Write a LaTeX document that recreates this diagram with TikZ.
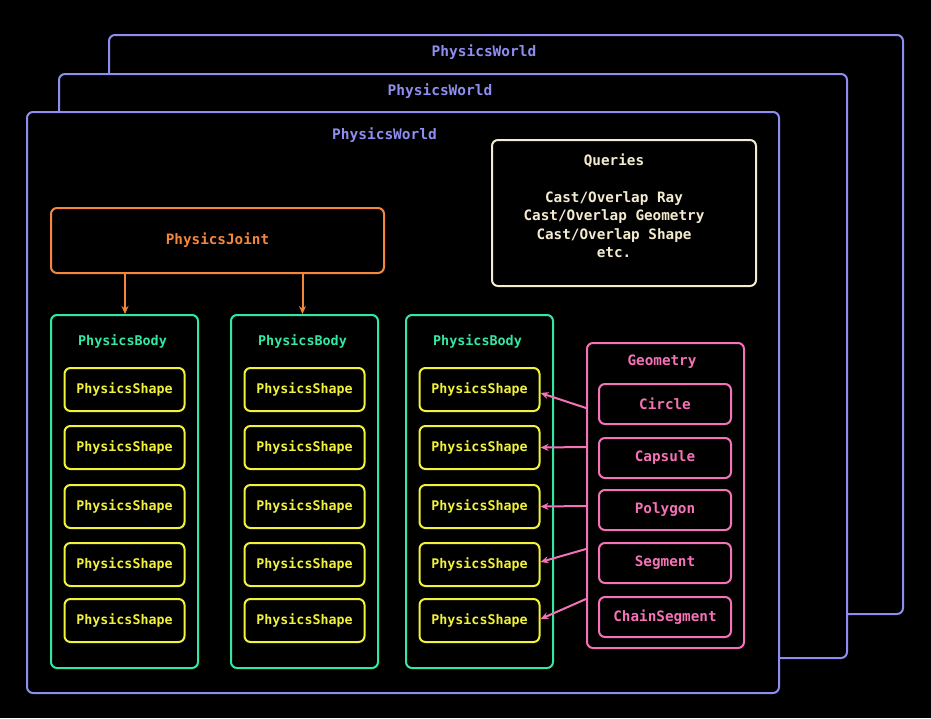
\documentclass[tikz,border=0pt]{standalone}
\usepackage{fontspec}
\setmonofont{DejaVu Sans Mono}
\usetikzlibrary{arrows.meta}
\definecolor{cworld}{HTML}{8E8EF0}
\definecolor{cquery}{HTML}{F4EBD0}
\definecolor{cjoint}{HTML}{F5873A}
\definecolor{cbody}{HTML}{33E8A5}
\definecolor{cshape}{HTML}{F2F23A}
\definecolor{cgeo}{HTML}{F472B6}
\tikzset{
  box/.style={draw, line width=2pt, rounded corners=6pt, fill=black, inner sep=0pt},
  txt/.style={yshift=-1pt},
  worldbox/.style={box, draw=cworld},
  worldtitle/.style={txt, text=cworld, font=\ttfamily\bfseries\fontsize{14.5}{16}\selectfont},
  querybox/.style={box, draw=cquery, minimum width=264pt, minimum height=146pt},
  querytext/.style={txt, text=cquery, align=center, font=\ttfamily\bfseries\fontsize{14.3}{18.5}\selectfont},
  jointbox/.style={box, draw=cjoint, minimum width=333pt, minimum height=65pt, text=cjoint, font=\ttfamily\bfseries\fontsize{14.3}{16}\selectfont},
  bodybox/.style={box, draw=cbody, minimum width=147pt, minimum height=353pt},
  bodytitle/.style={txt, text=cbody, font=\ttfamily\bfseries\fontsize{13.4}{16}\selectfont},
  shapebox/.style={box, draw=cshape, minimum width=120pt, minimum height=43pt, text=cshape, font=\ttfamily\bfseries\fontsize{13.3}{16}\selectfont},
  geobox/.style={box, draw=cgeo, minimum width=157pt, minimum height=305pt},
  geotitle/.style={txt, text=cgeo, font=\ttfamily\bfseries\fontsize{14.3}{16}\selectfont},
  geoitem/.style={box, draw=cgeo, minimum width=132pt, minimum height=40pt, text=cgeo, font=\ttfamily\bfseries\fontsize{14.3}{16}\selectfont},
  jarrow/.style={draw=cjoint, line width=2pt, -{Stealth[length=8pt,width=7pt]}},
  garrow/.style={draw=cgeo, line width=2pt, -{Stealth[length=8pt,width=7pt]}},
}
\begin{document}
\begin{tikzpicture}[x=1pt,y=-1pt]
\useasboundingbox[fill=black] (0,0) rectangle (931,718);
% worlds
\node[worldbox, minimum width=794pt, minimum height=579pt] (w3) at (506,324.5) {};
\node[worldtitle] (w3t) at (484,51) {PhysicsWorld};
\node[worldbox, minimum width=788pt, minimum height=584pt] (w2) at (453,366) {};
\node[worldtitle] (w2t) at (440,90) {PhysicsWorld};
\node[worldbox, minimum width=752pt, minimum height=581pt] (w1) at (403,402.5) {};
\node[worldtitle] (w1t) at (384.5,134) {PhysicsWorld};
% queries
\node[querybox] (q) at (624,213) {};
\node[querytext] (qt) at (614,205) {Queries\\[18.5pt]Cast/Overlap Ray\\Cast/Overlap Geometry\\Cast/Overlap Shape\\etc.};
% joint
\node[jointbox] (joint) at (217.5,240.5) {\raisebox{-1pt}{PhysicsJoint}};
% bodies
\foreach \b/\x in {1/124.5,2/304.5,3/479.5}{
  \node[bodybox] (b\b) at (\x,491.5) {};
  \node[bodytitle] (b\b t) at (\x-2,340) {PhysicsBody};
  \foreach \s/\y in {1/389.5,2/447.5,3/506.5,4/564.5,5/620.5}{
    \node[shapebox] (s\b\s) at (\x,\y) {\raisebox{-1pt}{PhysicsShape}};
  }
}
% geometry
\node[geobox] (geo) at (665.5,495.5) {};
\node[geotitle] (geot) at (662,361) {Geometry};
\node[geoitem] (g1) at (665,404) {\raisebox{-1pt}{Circle}};
\node[geoitem] (g2) at (665,458) {\raisebox{-1pt}{Capsule}};
\node[geoitem] (g3) at (665,510) {\raisebox{-1pt}{Polygon}};
\node[geoitem] (g4) at (665,563) {\raisebox{-1pt}{Segment}};
\node[geoitem] (g5) at (665,617) {\raisebox{-1pt}{ChainSegment}};
% joint arrows
\draw[jarrow] ([xshift=0.5pt]joint.south -| b1.north) -- ([xshift=0.5pt]b1.north);
\draw[jarrow] ([xshift=-2pt]joint.south -| b2.north) -- ([xshift=-2pt]b2.north);
% geometry arrows
\coordinate (ga1) at (geo.west |- 0,408);
\coordinate (ga2) at (geo.west |- 0,447);
\coordinate (ga3) at (geo.west |- 0,506);
\coordinate (ga4) at (geo.west |- 0,549);
\coordinate (ga5) at (geo.west |- 0,599);
\draw[garrow] (ga1) -- ([yshift=-3.5pt]s31.east);
\draw[garrow] (ga2) -- (s32.east);
\draw[garrow] (ga3) -- (s33.east);
\draw[garrow] (ga4) -- ([yshift=2.5pt]s34.east);
\draw[garrow] (ga5) -- ([yshift=1.5pt]s35.east);
\end{tikzpicture}
\end{document}
